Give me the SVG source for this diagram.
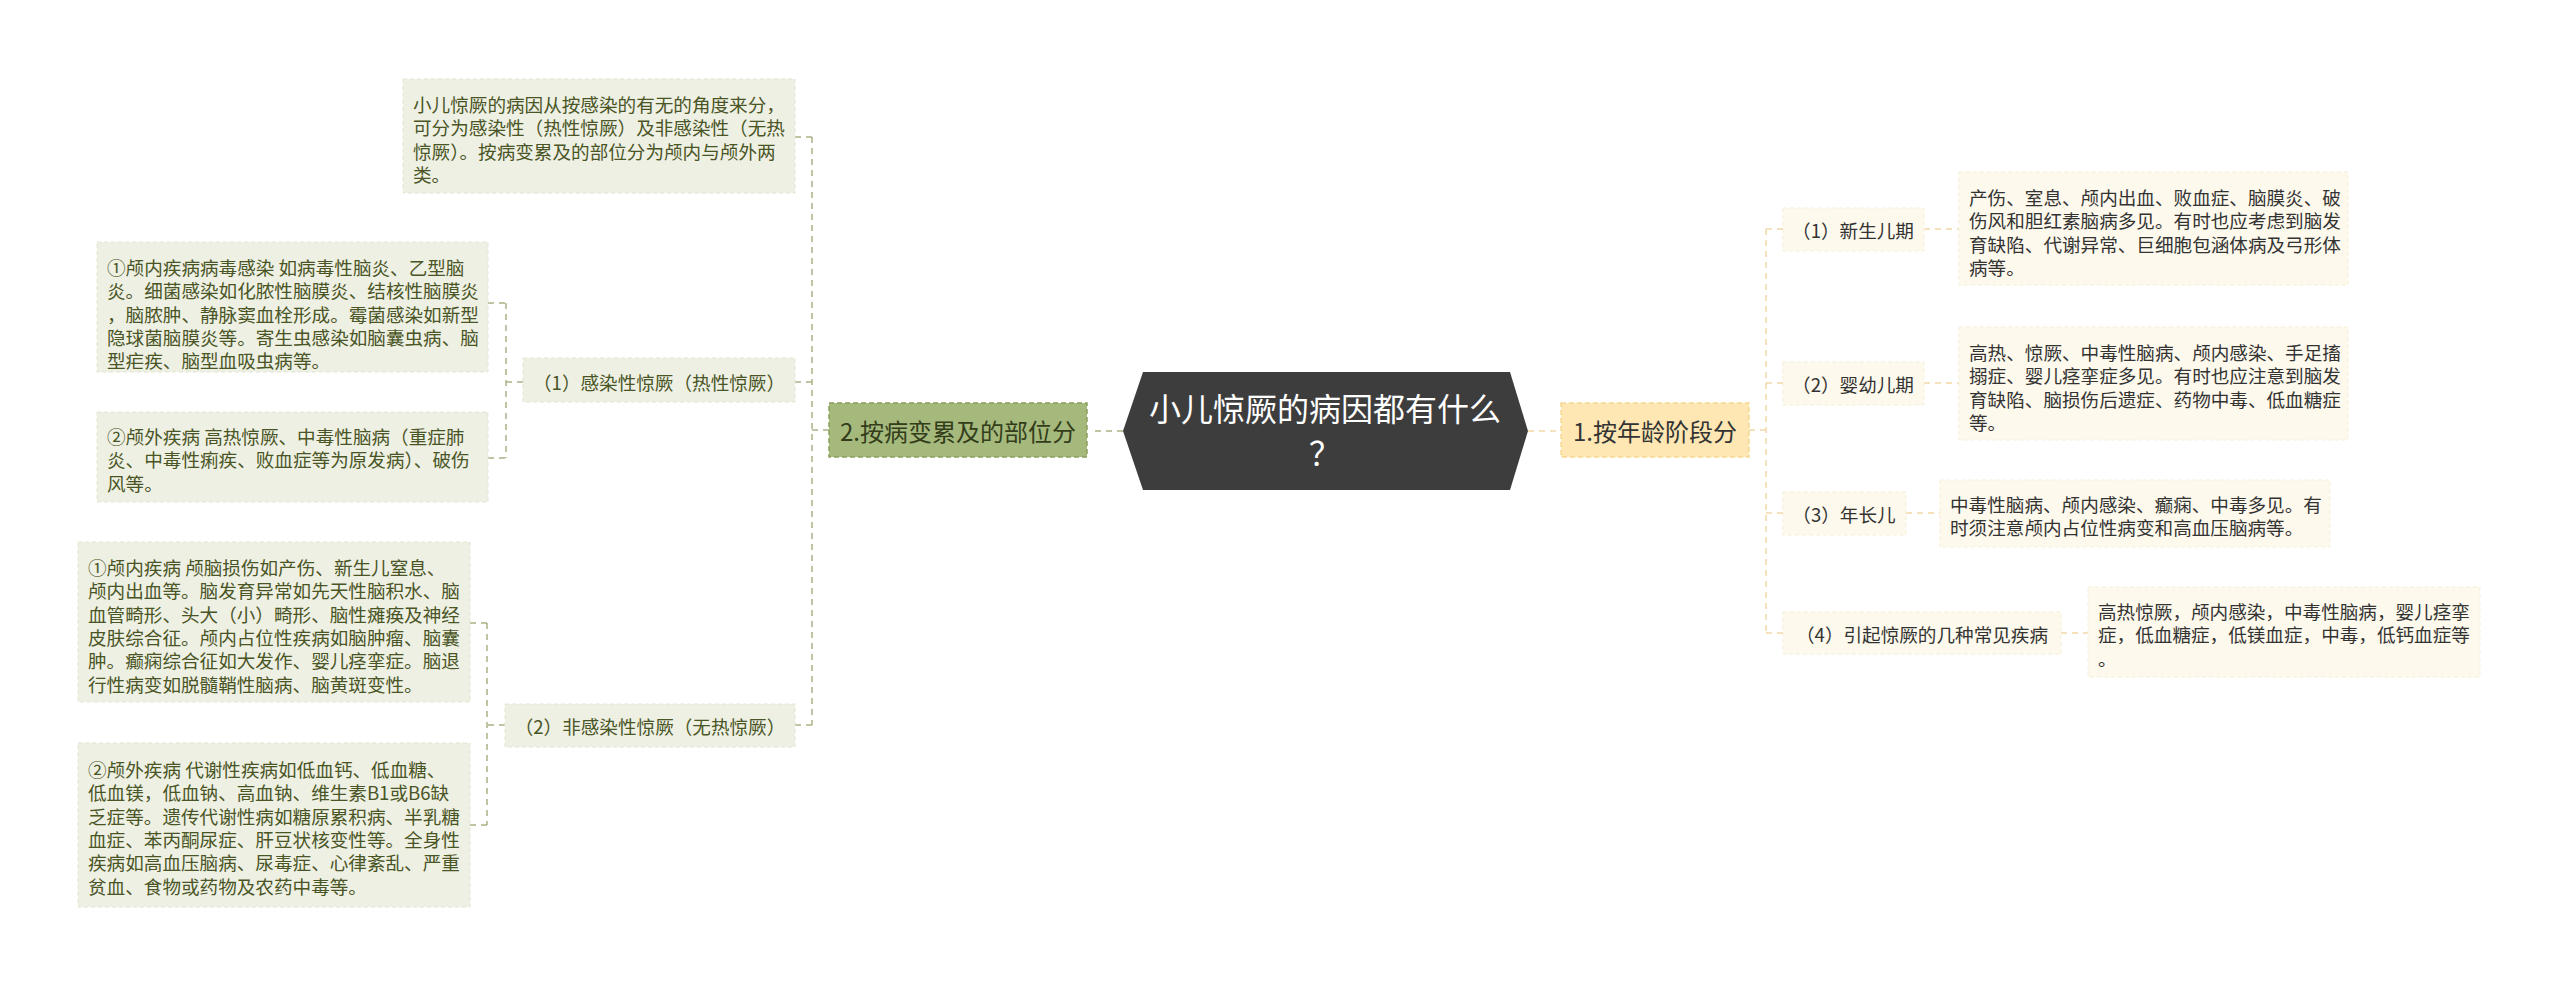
<svg xmlns="http://www.w3.org/2000/svg" width="2560" height="986" viewBox="0 0 2560 986">
<style>
text{font-family:"Noto Sans CJK SC","Noto Sans",sans-serif;dominant-baseline:central}
.gl{fill:none;stroke:#a9b385;stroke-width:1.5;stroke-dasharray:6 5}
.yl{fill:none;stroke:#f2d9a6;stroke-width:1.5;stroke-dasharray:6 5}
.gb{fill:#eef0e3;stroke:#e2e6d2;stroke-width:1;stroke-dasharray:4 3}
.yb{fill:#fdf9ec;stroke:#f6efd9;stroke-width:1;stroke-dasharray:4 3}
.gt{font-size:18.6px;fill:#4a5526}
.yt{font-size:18.6px;fill:#333333}
</style>
<rect width="2560" height="986" fill="#ffffff"/>
<g id="connectors">
<path class="gl" d="M1123,431 H1090"/>
<path class="gl" d="M829,430 H812 M812,137 V725 M795,137 H812 M795,382 H812 M795,725 H812"/>
<path class="gl" d="M523,382 H506 M506,303 V458 M488,303 H506 M488,458 H506"/>
<path class="gl" d="M505,725 H487 M487,623 V825 M470,623 H487 M470,825 H487"/>
<path class="yl" d="M1528,431 H1561"/>
<path class="yl" d="M1749,430 H1766 M1766,229 V633 M1766,229 H1783 M1766,383 H1783 M1766,513 H1783 M1766,633 H1783"/>
<path class="yl" d="M1924,229 H1959 M1924,383 H1959 M1906,513 H1940 M2061,633 H2088"/>
</g>
<g id="root">
<polygon points="1143,372 1510,372 1528,431 1510,490 1143,490 1123,431" fill="#3d3d3d"/>
<text x="1325" y="407" font-size="32" fill="#ffffff" text-anchor="middle">小儿惊厥的病因都有什么</text>
<text x="1325" y="451" font-size="32" fill="#ffffff" text-anchor="middle">？</text>
</g>
<g id="n2">
<rect x="829" y="403" width="258" height="54" fill="#a5b97d" stroke="#8c9f5c" stroke-width="1.5" stroke-dasharray="5 3"/>
<text x="958" y="430" font-size="24" fill="#333d1a" text-anchor="middle">2.按病变累及的部位分</text>
</g>
<g id="n1">
<rect x="1561" y="403" width="188" height="54" fill="#fee7b3" stroke="#f6d794" stroke-width="1.5" stroke-dasharray="5 3"/>
<text x="1655" y="430" font-size="24" fill="#333333" text-anchor="middle">1.按年龄阶段分</text>
</g>
<g id="n2-intro">
<rect class="gb" x="403" y="79" width="392" height="114"/>
<text class="gt" x="413"><tspan x="413" y="103">小儿惊厥的病因从按感染的有无的角度来分，</tspan><tspan x="413" y="126.3">可分为感染性（热性惊厥）及非感染性（无热</tspan><tspan x="413" y="149.6">惊厥）。按病变累及的部位分为颅内与颅外两</tspan><tspan x="413" y="172.9">类。</tspan></text>
</g>
<g id="n2-1">
<rect class="gb" x="523" y="358" width="272" height="44"/>
<text class="gt" x="659" y="381" text-anchor="middle">（1）感染性惊厥（热性惊厥）</text>
</g>
<g id="n2-1-a">
<rect class="gb" x="97" y="242" width="391" height="130"/>
<text class="gt"><tspan x="107" y="266">①颅内疾病病毒感染 如病毒性脑炎、乙型脑</tspan><tspan x="107" y="289.3">炎。细菌感染如化脓性脑膜炎、结核性脑膜炎</tspan><tspan x="107" y="312.6">，脑脓肿、静脉窦血栓形成。霉菌感染如新型</tspan><tspan x="107" y="335.9">隐球菌脑膜炎等。寄生虫感染如脑囊虫病、脑</tspan><tspan x="107" y="359.2">型疟疾、脑型血吸虫病等。</tspan></text>
</g>
<g id="n2-1-b">
<rect class="gb" x="97" y="412" width="391" height="90"/>
<text class="gt"><tspan x="107" y="435">②颅外疾病 高热惊厥、中毒性脑病（重症肺</tspan><tspan x="107" y="458.3">炎、中毒性痢疾、败血症等为原发病）、破伤</tspan><tspan x="107" y="481.6">风等。</tspan></text>
</g>
<g id="n2-2">
<rect class="gb" x="505" y="704" width="290" height="43"/>
<text class="gt" x="650" y="725" text-anchor="middle">（2）非感染性惊厥（无热惊厥）</text>
</g>
<g id="n2-2-a">
<rect class="gb" x="78" y="542" width="392" height="160"/>
<text class="gt"><tspan x="88" y="566">①颅内疾病 颅脑损伤如产伤、新生儿窒息、</tspan><tspan x="88" y="589.3">颅内出血等。脑发育异常如先天性脑积水、脑</tspan><tspan x="88" y="612.6">血管畸形、头大（小）畸形、脑性瘫痪及神经</tspan><tspan x="88" y="635.9">皮肤综合征。颅内占位性疾病如脑肿瘤、脑囊</tspan><tspan x="88" y="659.2">肿。癫痫综合征如大发作、婴儿痉挛症。脑退</tspan><tspan x="88" y="682.5">行性病变如脱髓鞘性脑病、脑黄斑变性。</tspan></text>
</g>
<g id="n2-2-b">
<rect class="gb" x="78" y="743" width="392" height="164"/>
<text class="gt"><tspan x="88" y="768">②颅外疾病 代谢性疾病如低血钙、低血糖、</tspan><tspan x="88" y="791.3">低血镁，低血钠、高血钠、维生素B1或B6缺</tspan><tspan x="88" y="814.6">乏症等。遗传代谢性病如糖原累积病、半乳糖</tspan><tspan x="88" y="837.9">血症、苯丙酮尿症、肝豆状核变性等。全身性</tspan><tspan x="88" y="861.2">疾病如高血压脑病、尿毒症、心律紊乱、严重</tspan><tspan x="88" y="884.5">贫血、食物或药物及农药中毒等。</tspan></text>
</g>
<g id="n1-1">
<rect class="yb" x="1783" y="208" width="141" height="43"/>
<text class="yt" x="1853" y="229" text-anchor="middle">（1）新生儿期</text>
</g>
<g id="n1-1-a">
<rect class="yb" x="1959" y="172" width="389" height="113"/>
<text class="yt"><tspan x="1969" y="196">产伤、室息、颅内出血、败血症、脑膜炎、破</tspan><tspan x="1969" y="219.3">伤风和胆红素脑病多见。有时也应考虑到脑发</tspan><tspan x="1969" y="242.6">育缺陷、代谢异常、巨细胞包涵体病及弓形体</tspan><tspan x="1969" y="265.9">病等。</tspan></text>
</g>
<g id="n1-2">
<rect class="yb" x="1783" y="362" width="141" height="43"/>
<text class="yt" x="1853" y="383" text-anchor="middle">（2）婴幼儿期</text>
</g>
<g id="n1-2-a">
<rect class="yb" x="1959" y="327" width="389" height="113"/>
<text class="yt"><tspan x="1969" y="351">高热、惊厥、中毒性脑病、颅内感染、手足搐</tspan><tspan x="1969" y="374.3">搦症、婴儿痉挛症多见。有时也应注意到脑发</tspan><tspan x="1969" y="397.6">育缺陷、脑损伤后遗症、药物中毒、低血糖症</tspan><tspan x="1969" y="420.9">等。</tspan></text>
</g>
<g id="n1-3">
<rect class="yb" x="1783" y="492" width="123" height="43"/>
<text class="yt" x="1844" y="513" text-anchor="middle">（3）年长儿</text>
</g>
<g id="n1-3-a">
<rect class="yb" x="1940" y="480" width="390" height="67"/>
<text class="yt"><tspan x="1950" y="503">中毒性脑病、颅内感染、癫痫、中毒多见。有</tspan><tspan x="1950" y="526.3">时须注意颅内占位性病变和高血压脑病等。</tspan></text>
</g>
<g id="n1-4">
<rect class="yb" x="1783" y="612" width="278" height="42"/>
<text class="yt" x="1922" y="633" text-anchor="middle">（4）引起惊厥的几种常见疾病</text>
</g>
<g id="n1-4-a">
<rect class="yb" x="2088" y="587" width="392" height="90"/>
<text class="yt"><tspan x="2098" y="610">高热惊厥，颅内感染，中毒性脑病，婴儿痉挛</tspan><tspan x="2098" y="633.3">症，低血糖症，低镁血症，中毒，低钙血症等</tspan><tspan x="2098" y="656.6">。</tspan></text>
</g>
</svg>
